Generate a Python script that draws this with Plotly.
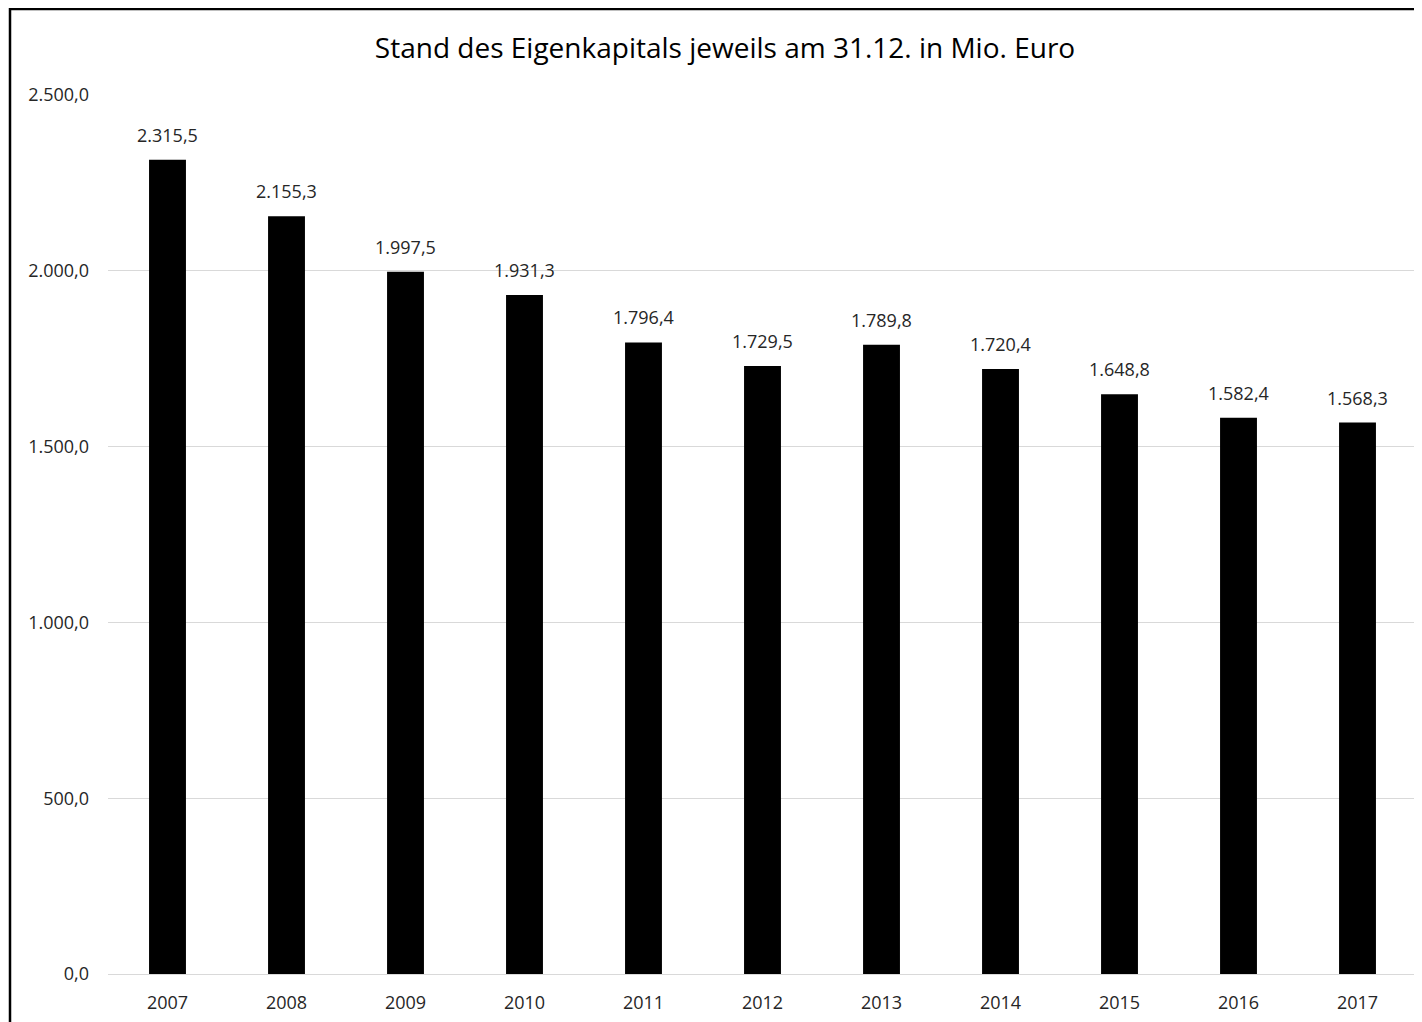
import plotly.graph_objects as go

years = ["2007", "2008", "2009", "2010", "2011", "2012", "2013", "2014", "2015", "2016", "2017"]
eigenkapital = [2315.5, 2155.3, 1997.5, 1931.3, 1796.4, 1729.5, 1789.8, 1720.4, 1648.8, 1582.4, 1568.3]
y_ticks = [0, 500, 1000, 1500, 2000, 2500]

font_family = "Open Sans, Noto Sans, sans-serif"
text_color = "#262626"

# page body adds an 8px offset, so the figure is a bit smaller than the window
W, H = 1414, 1014
L, R, T, B = 100, 5, 87, 48


def de_num(v):
    return f"{v:,.1f}".replace(",", "X").replace(".", ",").replace("X", ".")


fig = go.Figure(go.Bar(
    x=years,
    y=eigenkapital,
    marker=dict(color="black", line=dict(width=0)),
    hoverinfo="x+y",
))

# value labels above the bars (category index positions on the x axis)
for i, val in enumerate(eigenkapital):
    fig.add_annotation(
        x=i, y=val, xref="x", yref="y",
        text=de_num(val),
        showarrow=False, yanchor="bottom", yshift=11,
        font=dict(size=18, color=text_color, family=font_family),
    )

fig.update_layout(
    width=W,
    height=H,
    separators=",.",
    paper_bgcolor="white",
    plot_bgcolor="white",
    margin=dict(l=L, r=R, t=T, b=B),
    bargap=0.69,
    showlegend=False,
    title=dict(
        text="Stand des Eigenkapitals jeweils am 31.12. in Mio. Euro",
        x=717 / W, xref="container", xanchor="center",
        y=1 - 40 / H, yref="container", yanchor="middle",
        font=dict(size=28, color="#000000", family=font_family),
    ),
    font=dict(family=font_family),
)

fig.update_yaxes(
    range=[0, 2500],
    tickvals=y_ticks,
    tickformat=",.1f",
    showgrid=True,
    gridcolor="#d9d9d9",
    gridwidth=1,
    zeroline=True,
    zerolinecolor="#d9d9d9",
    zerolinewidth=1,
    showline=False,
    ticks="",
    ticklabelstandoff=18,
    tickfont=dict(size=18, color=text_color, family=font_family),
)

fig.update_xaxes(
    type="category",
    range=[-0.5, len(years) - 0.5],
    showgrid=False,
    showline=False,
    ticks="",
    ticklabelstandoff=16,
    tickfont=dict(size=18, color=text_color, family=font_family),
)

# outer frame of the chart (only left and top edges are visible)
pw = W - L - R
ph = H - T - B
fig.add_shape(
    type="rect", xref="paper", yref="paper",
    x0=(2 - L) / pw, x1=1.05, y0=-0.2, y1=1 + (T - 1) / ph,
    line=dict(color="black", width=2.5), fillcolor="rgba(0,0,0,0)",
    layer="above",
)

fig.write_html("out.html")
